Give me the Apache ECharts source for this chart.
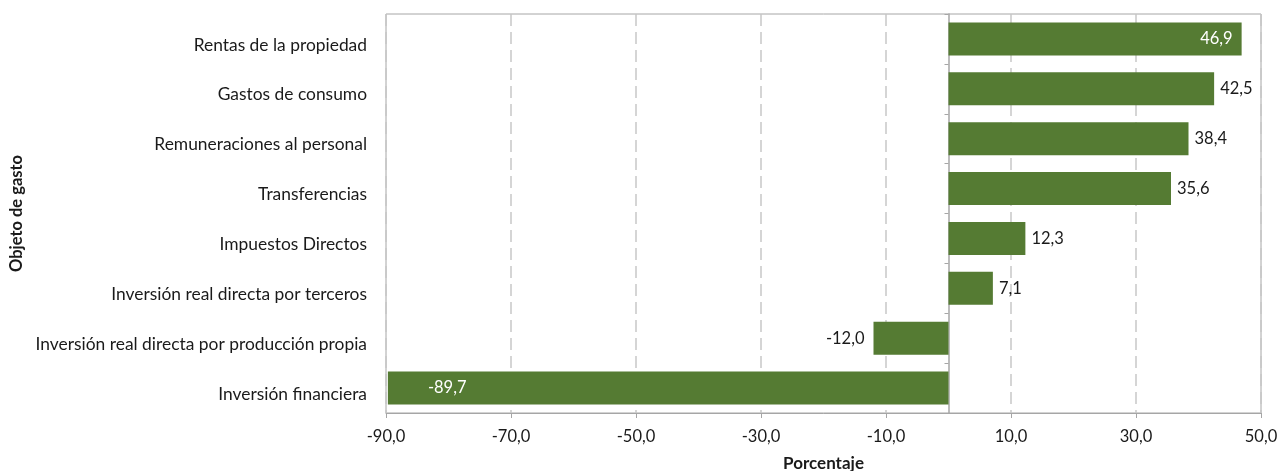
<!DOCTYPE html>
<html><head><meta charset="utf-8">
<script src="https://cdn.jsdelivr.net/npm/echarts@6/dist/echarts.min.js"></script>
<style>html,body{margin:0;padding:0;background:#fff}#c{width:1277px;height:471px}</style>
</head><body><div id="c"></div>
<script>
const categories = ["Rentas de la propiedad","Gastos de consumo","Remuneraciones al personal","Transferencias","Impuestos Directos","Inversión real directa por terceros","Inversión real directa por producción propia","Inversión financiera"];
const values = [46.9, 42.5, 38.4, 35.6, 12.3, 7.1, -12.0, -89.7];
const xTicks = [-90, -70, -50, -30, -10, 10, 30, 50];
const xTitle = "Porcentaje";
const yTitle = "Objeto de gasto";

const FONT = "Lato";
const fmt = v => v.toFixed(1).replace('.', ',');
const cats = categories.slice().reverse();
const vals = values.slice().reverse();

const data = vals.map((v, i) => {
  const d = {value: v};
  if (v === 46.9) d.label = {position: 'insideRight', color: '#fff', distance: 9};
  else if (v === -89.7) d.label = {position: 'insideLeft', color: '#fff', distance: 40};
  else if (v < 0) d.label = {position: 'left', distance: 9};
  else d.label = {position: 'right', distance: 6};
  return d;
});

const chart = echarts.init(document.getElementById('c'));
chart.setOption({
  animation: false,
  textStyle: {fontFamily: FONT},
  grid: {left: 386, right: 16, top: 14, bottom: 58, show: true, borderColor: '#a6a6a6', borderWidth: 1, containLabel: false, outerBoundsMode: 'none'},
  xAxis: {
    type: 'value', min: -90, max: 50, interval: 20,
    name: xTitle, nameLocation: 'middle', nameGap: 42,
    nameTextStyle: {fontFamily: FONT, fontSize: 17, fontWeight: 'bold', color: '#1a1a1a'},
    axisLine: {show: true, onZero: false, lineStyle: {color: '#a6a6a6'}},
    axisTick: {show: true, length: 5, lineStyle: {color: '#a6a6a6'}},
    axisLabel: {fontSize: 16.5, color: '#1a1a1a', margin: 15, formatter: v => xTicks.includes(v) ? fmt(v) : ''},
    splitLine: {show: true, lineStyle: {color: '#c8c8c8', type: [12, 6], width: 1.5}}
  },
  yAxis: [{
    type: 'category', data: cats,
    name: yTitle, nameLocation: 'middle', nameGap: 357, nameRotate: 90,
    nameTextStyle: {fontFamily: FONT, fontSize: 16.5, fontWeight: 'bold', color: '#1a1a1a'},
    axisLine: {show: false}, axisTick: {show: false},
    axisLabel: {fontSize: 17.4, color: '#1a1a1a', margin: 19, verticalAlign: 'top', lineHeight: 12}
  }, {
    type: 'category', data: cats, position: 'left',
    axisLine: {show: true, onZero: true, onZeroAxisIndex: 0, lineStyle: {color: '#a6a6a6', width: 1.5}},
    axisTick: {show: true, length: 4, lineStyle: {color: '#a6a6a6'}},
    axisLabel: {show: false}
  }],
  series: [{
    type: 'bar', data: data, yAxisIndex: 0,
    barCategoryGap: '34%',
    itemStyle: {color: '#557b33'},
    label: {show: true, fontFamily: FONT, fontSize: 16.5, color: '#1a1a1a', formatter: p => fmt(p.value)}
  }]
});
</script></body></html>
